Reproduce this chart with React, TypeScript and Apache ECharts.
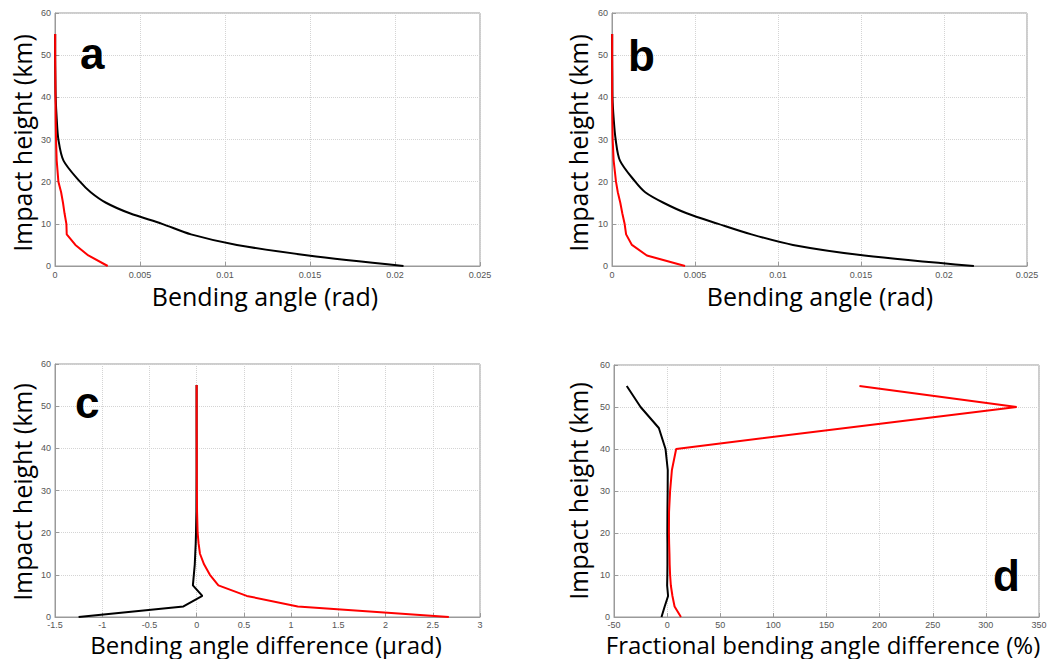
import React, { useEffect, useRef } from "react";
import * as echarts from "echarts";

const heights = [0, 2.5, 5, 7.5, 10, 12.5, 15, 17.5, 20, 25, 30, 35, 40, 45, 50, 55];
const yTicks = [0, 10, 20, 30, 40, 50, 60];

const aBlack = [0.0205, 0.0149, 0.0107, 0.008, 0.0063, 0.0044, 0.003, 0.0021, 0.00147, 0.0005, 0.0002, 0.0001, 0.00004, 0.00002, 0.00001, 0.00001];
const aRed = [0.0031, 0.00196, 0.0012, 0.00069, 0.00067, 0.00056, 0.00047, 0.00036, 0.0002, 0.0001, 0.00006, 0.00004, 0.00003, 0.00002, 0.00001, 0.00001];

const bBlack = [0.0218, 0.0152, 0.0109, 0.0084, 0.0064, 0.0045, 0.0031, 0.002, 0.0014, 0.00048, 0.00022, 0.0001, 0.00003, 0.00002, 0.00001, 0.00001];
const bRed = [0.0044, 0.0021, 0.0012, 0.00085, 0.00076, 0.00062, 0.0005, 0.00035, 0.00024, 0.0001, 0.00004, 0.00002, 0.00001, 0.00001, 0.00001, 0.00001];

const cBlack = [-1.25, -0.14, 0.06, -0.04, -0.03, -0.02, -0.015, -0.01, -0.007, -0.003, -0.002, -0.001, -0.001, -0.001, -0.001, -0.001];
const cRed = [2.67, 1.07, 0.53, 0.23, 0.14, 0.078, 0.035, 0.02, 0.01, 0.004, 0.002, 0.001, 0.001, 0.0, 0.0, 0.0];

const dBlack = [-5.3, -2.3, 0.9, 0, 0.2, 0.3, 0.3, 0.3, 0.2, 0.3, 0.5, 0.6, -1.5, -7.8, -25, -38];
const dRed = [13, 7, 5, 3.5, 2.8, 2.4, 2.2, 1.9, 1.7, 1.8, 2.8, 4.5, 8.5, 168, 329, 181];

const panels = [
  { letter: "a", xTitle: "Bending angle (rad)", xMin: 0, xMax: 0.025, xStep: 0.005, black: aBlack, red: aRed, smoothBlack: true },
  { letter: "b", xTitle: "Bending angle (rad)", xMin: 0, xMax: 0.025, xStep: 0.005, black: bBlack, red: bRed, smoothBlack: true },
  { letter: "c", xTitle: "Bending angle difference (\u03bcrad)", xMin: -1.5, xMax: 3, xStep: 0.5, black: cBlack, red: cRed, smoothBlack: false },
  { letter: "d", xTitle: "Fractional bending angle difference (%)", xMin: -50, xMax: 350, xStep: 50, black: dBlack, red: dRed, smoothBlack: false },
];

const gridBoxes = [
  { left: 55, top: 13, width: 425, height: 253 },
  { left: 612, top: 13, width: 415, height: 253 },
  { left: 55, top: 364, width: 425, height: 253 },
  { left: 614, top: 365, width: 425, height: 252 },
];

const letterPos = [
  { x: 80, y: 53 },
  { x: 628, y: 55 },
  { x: 75, y: 402 },
  { x: 993, y: 575 },
];

const yTitlePos = [
  { x: 22, y: 143 },
  { x: 578, y: 143 },
  { x: 22, y: 492 },
  { x: 578, y: 491 },
];

const xTitlePos = [
  { x: 265, y: 296, size: 25, tickMargin: 4 },
  { x: 820, y: 296, size: 25, tickMargin: 4 },
  { x: 266, y: 644, size: 24, tickMargin: 3 },
  { x: 823, y: 644, size: 24, tickMargin: 3 },
];

const TICK_FONT = "Liberation Sans";
const TITLE_FONT = "Open Sans";

export default function App() {
  const ref = useRef<HTMLDivElement>(null);
  useEffect(() => {
    if (!ref.current) return;
    const chart = echarts.init(ref.current, null, { renderer: "svg" });
    const grid = gridBoxes.map((g) => ({
      ...g,
      show: true,
      borderColor: "#9a9a9a",
      borderWidth: 1,
      backgroundColor: "#fff",
      containLabel: false,
    }));
    const xAxis = panels.map((p, i) => ({
      type: "value",
      gridIndex: i,
      min: p.xMin,
      max: p.xMax,
      interval: p.xStep,
      axisLine: { show: true, onZero: false, lineStyle: { color: "#9a9a9a", width: 1 } },
      axisTick: { show: true, inside: true, length: 4, lineStyle: { color: "#9a9a9a" } },
      axisLabel: {
        fontSize: 9,
        lineHeight: 10,
        color: "#555",
        fontFamily: TICK_FONT,
        margin: xTitlePos[i].tickMargin,
        showMaxLabel: true,
        showMinLabel: true,
      },
      splitLine: { show: true, lineStyle: { color: "#d4d4d4", type: "dotted", width: 1 } },
    }));
    const yAxis = panels.map((p, i) => ({
      type: "value",
      gridIndex: i,
      min: yTicks[0],
      max: yTicks[yTicks.length - 1],
      interval: yTicks[1] - yTicks[0],
      axisLine: { show: true, onZero: false, lineStyle: { color: "#9a9a9a", width: 1 } },
      axisTick: { show: true, inside: true, length: 4, lineStyle: { color: "#9a9a9a" } },
      axisLabel: { fontSize: 9, color: "#555", fontFamily: TICK_FONT, margin: 4 },
      splitLine: { show: true, lineStyle: { color: "#d4d4d4", type: "dotted", width: 1 } },
    }));
    const series: any[] = [];
    panels.forEach((p, i) => {
      series.push({
        type: "line",
        xAxisIndex: i,
        yAxisIndex: i,
        data: p.black.map((v, k) => [v, heights[k]]),
        showSymbol: false,
        symbol: "none",
        smooth: p.smoothBlack ? 0.3 : false,
        lineStyle: { color: "#000", width: 2 },
        z: 3,
      });
      series.push({
        type: "line",
        xAxisIndex: i,
        yAxisIndex: i,
        data: p.red.map((v, k) => [v, heights[k]]),
        showSymbol: false,
        symbol: "none",
        lineStyle: { color: "#ff0000", width: 2 },
        z: 4,
      });
    });
    const graphic: any[] = [];
    panels.forEach((p, i) => {
      graphic.push({
        type: "text",
        x: letterPos[i].x,
        y: letterPos[i].y,
        z: 100,
        style: {
          text: p.letter,
          font: "bold 44px 'Liberation Sans', Arial, sans-serif",
          fill: "#000",
          textAlign: "left",
          textVerticalAlign: "middle",
        },
      });
      graphic.push({
        type: "text",
        x: yTitlePos[i].x,
        y: yTitlePos[i].y,
        rotation: Math.PI / 2,
        z: 100,
        style: {
          text: "Impact height (km)",
          font: `25px '${TITLE_FONT}', sans-serif`,
          fill: "#000",
          textAlign: "center",
          textVerticalAlign: "middle",
        },
      });
      graphic.push({
        type: "text",
        x: xTitlePos[i].x,
        y: xTitlePos[i].y,
        z: 100,
        style: {
          text: p.xTitle,
          font: `${xTitlePos[i].size}px '${TITLE_FONT}', sans-serif`,
          fill: "#000",
          textAlign: "center",
          textVerticalAlign: "middle",
        },
      });
    });
    chart.setOption({
      animation: false,
      backgroundColor: "#fff",
      grid,
      xAxis,
      yAxis,
      series,
      graphic,
    });
    return () => chart.dispose();
  }, []);
  return (
    <div
      ref={ref}
      style={{ position: "fixed", left: 0, top: 0, width: 1055, height: 659, background: "#fff" }}
    />
  );
}
